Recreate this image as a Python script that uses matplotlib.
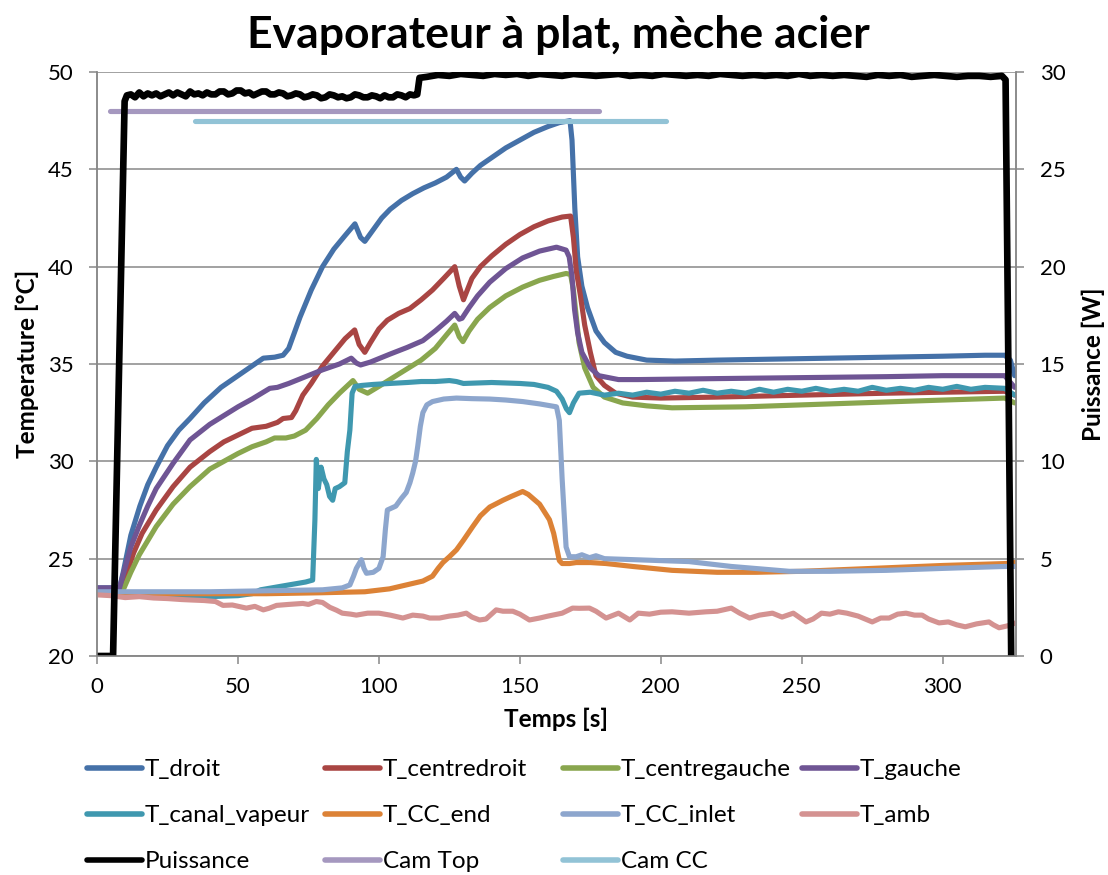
import matplotlib
matplotlib.use("Agg")
import matplotlib.pyplot as plt
from matplotlib.lines import Line2D

plt.rcParams['font.family'] = ['Lato', 'DejaVu Sans']

# ---------------- data ----------------
t_droit = [0, 5, 8, 9.3, 12, 15.2, 18, 21, 25, 29, 33, 38, 44, 50, 55, 59, 63, 66, 68, 70, 72, 76, 80, 84, 88,
           91.5, 93.5, 95, 98, 101, 104, 108, 112, 116, 120, 124, 127.5, 129, 130.4, 133, 136, 140, 145, 150,
           155, 160, 164, 167.8, 168.5, 169.5, 170.5, 172, 174, 177, 180, 184, 188, 195, 205, 220, 240, 260,
           280, 300, 315, 322, 324, 325.5]
v_droit = [23.5, 23.5, 23.5, 24.3, 26.2, 27.7, 28.8, 29.7, 30.8, 31.6, 32.2, 33.0, 33.8, 34.4, 34.9, 35.3, 35.35,
           35.45, 35.8, 36.6, 37.4, 38.8, 40.0, 40.9, 41.6, 42.2, 41.5, 41.3, 41.9, 42.5, 42.95, 43.4, 43.75,
           44.05, 44.3, 44.6, 45.0, 44.6, 44.4, 44.8, 45.2, 45.6, 46.1, 46.5, 46.9, 47.2, 47.4, 47.5, 46.5, 43.0,
           40.5, 39.0, 37.9, 36.7, 36.1, 35.6, 35.4, 35.2, 35.15, 35.2, 35.25, 35.3, 35.35, 35.4, 35.45, 35.45,
           35.2, 34.4]

t_cdroit = [0, 8, 10, 13, 16, 21, 27, 33, 40, 45, 50, 55, 60, 64, 66, 69, 70.5, 73, 76, 80, 84, 88, 91.4, 93,
            95, 97, 100, 103, 107, 111, 115, 119, 123, 126.9, 128.5, 130, 133, 136, 140, 145, 150, 155, 160,
            165, 168, 169, 170, 171.5, 173, 175, 177, 180, 184, 190, 200, 220, 250, 280, 300, 322, 325.5]
v_cdroit = [23.4, 23.4, 24.0, 25.3, 26.3, 27.5, 28.7, 29.7, 30.5, 31.0, 31.35, 31.7, 31.8, 32.0, 32.2, 32.25,
            32.6, 33.4, 34.0, 34.9, 35.6, 36.3, 36.75, 36.0, 35.6, 36.1, 36.8, 37.25, 37.6, 37.85, 38.3, 38.8,
            39.4, 40.0, 39.0, 38.3, 39.4, 40.0, 40.55, 41.15, 41.65, 42.05, 42.35, 42.55, 42.6, 41.5, 39.8,
            38.5, 37.0, 35.6, 34.4, 33.9, 33.5, 33.3, 33.25, 33.3, 33.4, 33.5, 33.55, 33.6, 33.4]

t_cgauche = [0, 9, 12, 15, 21, 27, 33, 40, 45, 50, 55, 60, 63, 67, 70, 74, 78, 82, 86, 90.8, 93, 96, 100, 105,
             110, 115, 120, 124, 126.9, 128.5, 129.8, 132, 135, 139.3, 145, 151, 157, 162, 166.4, 168, 169,
             171, 173, 176, 180, 186.5, 195, 204, 230, 260, 290, 322, 325.5]
v_cgauche = [23.3, 23.3, 24.3, 25.2, 26.65, 27.8, 28.7, 29.6, 30.0, 30.4, 30.75, 31.0, 31.2, 31.2, 31.3, 31.6,
             32.2, 32.9, 33.5, 34.15, 33.7, 33.5, 33.85, 34.3, 34.75, 35.2, 35.8, 36.5, 37.0, 36.4, 36.15, 36.7,
             37.3, 37.9, 38.5, 38.95, 39.3, 39.5, 39.65, 39.6, 38.8, 36.1, 34.8, 33.8, 33.3, 33.0, 32.85, 32.75,
             32.8, 32.95, 33.1, 33.25, 33.0]

t_gauche = [0, 8, 9.5, 12, 15, 18, 21, 27, 33, 40, 45, 50, 55, 59, 61.3, 64, 68, 74, 80, 86, 90.2, 92, 93.5,
            97, 103.8, 110, 115.6, 120, 124, 126.9, 128.5, 129.5, 132, 135, 139.3, 145, 151, 157, 163, 166.4,
            167.5, 168.5, 169.4, 170.5, 172, 175, 178, 185, 192, 220, 250, 280, 300, 322, 325.5]
v_gauche = [23.5, 23.5, 24.3, 25.6, 26.7, 27.7, 28.6, 29.9, 31.1, 31.9, 32.35, 32.8, 33.2, 33.55, 33.75, 33.8,
            34.0, 34.35, 34.7, 35.0, 35.3, 35.05, 34.95, 35.1, 35.5, 35.85, 36.2, 36.7, 37.2, 37.6, 37.3,
            37.35, 37.9, 38.5, 39.2, 39.9, 40.45, 40.8, 41.0, 40.85, 40.5, 39.5, 37.8, 36.6, 35.6, 34.8, 34.4,
            34.2, 34.2, 34.25, 34.3, 34.35, 34.4, 34.4, 33.8]

t_canal = [0, 10, 20, 30, 40, 50, 55, 58, 62, 66, 70, 74, 76.5, 77.3, 77.8, 78.5, 79.5, 80.5, 81.5, 82.5, 83.6,
           84.5, 86, 87.9, 88.8, 89.7, 90.5, 91.5, 94, 98, 103.8, 110, 115, 120, 125, 127.5, 130, 140, 150,
           155, 160, 163, 165, 166.5, 167.6, 169, 171, 175, 180, 185, 190, 195, 200, 205, 210, 215, 220, 225,
           230, 235, 240, 245, 250, 255, 260, 265, 270, 275, 280, 285, 290, 295, 300, 305, 310, 315, 322, 325.5]
v_canal = [23.2, 23.15, 23.1, 23.05, 23.05, 23.1, 23.2, 23.4, 23.5, 23.6, 23.7, 23.8, 23.9, 27.0, 30.1, 28.6,
           29.7, 29.1, 28.8, 28.2, 28.0, 28.6, 28.7, 28.9, 30.5, 31.6, 33.5, 33.85, 33.9, 33.95, 34.0, 34.05,
           34.1, 34.1, 34.15, 34.1, 34.0, 34.05, 34.0, 33.95, 33.8, 33.6, 33.2, 32.7, 32.5, 33.0, 33.5, 33.55,
           33.4, 33.5, 33.4, 33.55, 33.45, 33.6, 33.5, 33.65, 33.5, 33.6, 33.5, 33.7, 33.55, 33.7, 33.6, 33.75,
           33.6, 33.7, 33.6, 33.8, 33.65, 33.75, 33.65, 33.8, 33.7, 33.85, 33.7, 33.8, 33.75, 33.4]

t_ccend = [0, 20, 40, 60, 80, 95, 103.8, 109.7, 115.6, 119, 121, 122.7, 125, 127.5, 130, 133.3, 136, 139.3,
           142, 144, 147, 151, 153, 157, 160.5, 162, 163, 164, 165, 167.6, 170, 175, 180.6, 190, 204, 220,
           233.8, 250, 275, 300, 322.4, 325.5]
v_ccend = [23.25, 23.2, 23.2, 23.2, 23.25, 23.3, 23.45, 23.65, 23.85, 24.1, 24.5, 24.8, 25.1, 25.45, 25.95,
           26.65, 27.2, 27.65, 27.85, 28.0, 28.2, 28.45, 28.3, 27.8, 27.0, 26.3, 25.6, 24.9, 24.75, 24.75, 24.8,
           24.8, 24.75, 24.6, 24.4, 24.3, 24.3, 24.35, 24.5, 24.65, 24.75, 24.8]

t_ccinlet = [0, 20, 40, 60, 80, 87, 89.7, 91, 92, 93.8, 94.7, 95.6, 98, 100, 101.5, 102.3, 103, 106, 108, 109.7,
             111, 112, 113, 113.8, 114.7, 115.6, 117, 119, 123, 127.5, 133, 139.3, 145, 151, 157, 163, 164, 165,
             166.4, 167.6, 170, 172, 174.7, 177, 180, 190, 200, 210, 225, 245.6, 260, 280, 300, 322, 325.5]
v_ccinlet = [23.3, 23.3, 23.3, 23.35, 23.4, 23.5, 23.65, 24.1, 24.5, 24.95, 24.5, 24.25, 24.3, 24.5, 25.1, 26.5,
             27.5, 27.7, 28.1, 28.4, 28.9, 29.4, 30.0, 30.8, 31.8, 32.5, 32.9, 33.07, 33.2, 33.25, 33.22, 33.2,
             33.15, 33.07, 32.95, 32.8, 32.1, 29.1, 25.6, 25.1, 25.1, 25.2, 25.05, 25.15, 25.0, 24.95, 24.9,
             24.85, 24.6, 24.35, 24.35, 24.4, 24.5, 24.6, 24.6]

t_amb = [0, 5, 10, 15, 20, 25, 30, 33, 38, 42, 44.7, 48, 53, 56, 59, 61, 63.7, 68, 73, 75, 77.8, 80, 82.6, 85,
         87, 90, 92, 96, 100, 104, 108.5, 112, 115.6, 118, 121.5, 125, 128, 131, 133, 135.7, 138, 141.6, 144,
         147.5, 150, 153.4, 157, 160, 165, 168.7, 171, 174.7, 177, 180.6, 185, 189, 192, 196, 200, 204, 210,
         216, 220, 225, 228, 231.5, 235, 239.6, 243, 247, 251.5, 254, 257, 260, 263, 266, 270, 275, 278, 281,
         284, 287, 290, 292.7, 295, 298.7, 302, 305, 308, 312, 316.4, 318, 320, 323, 325.9]
v_amb = [23.14, 23.1, 23.0, 23.05, 22.98, 22.95, 22.9, 22.88, 22.85, 22.8, 22.6, 22.62, 22.46, 22.55, 22.37,
         22.45, 22.6, 22.65, 22.7, 22.65, 22.8, 22.75, 22.5, 22.35, 22.2, 22.15, 22.1, 22.2, 22.2, 22.1, 21.95,
         22.1, 22.05, 21.95, 21.95, 22.05, 22.1, 22.2, 22.0, 21.85, 21.9, 22.37, 22.3, 22.3, 22.15, 21.85,
         21.95, 22.05, 22.2, 22.46, 22.45, 22.46, 22.3, 21.95, 22.2, 21.85, 22.2, 22.15, 22.25, 22.27, 22.2,
         22.27, 22.3, 22.46, 22.2, 21.95, 22.1, 22.2, 22.0, 22.2, 21.75, 21.9, 22.2, 22.15, 22.27, 22.2, 22.05,
         21.75, 21.95, 21.95, 22.15, 22.2, 22.1, 22.1, 21.9, 21.7, 21.75, 21.6, 21.5, 21.65, 21.75, 21.6,
         21.45, 21.55, 21.7]

t_puis = [0, 5.7, 9.8, 10.6, 12, 13.5, 15, 16.5, 18, 19.5, 21, 22.5, 24, 25.5, 27, 28.5, 30, 31.5, 33, 34.5,
          36, 37.5, 39, 40.5, 42, 43.5, 45, 46.5, 48, 49.5, 51, 52.5, 54, 55.5, 57, 58.5, 60, 61.5, 63, 64.5,
          66, 67.5, 69, 70.5, 72, 73.5, 75, 76.5, 78, 79.5, 81, 82.5, 84, 85.5, 87, 88.5, 90, 91.5, 93, 94.5,
          96, 97.5, 99, 100.5, 102, 103.5, 105, 106.5, 108, 109.5, 111, 112.5, 113.6, 114.4, 117, 121, 125,
          129, 133, 137, 141, 145, 149, 153, 157, 161, 165, 169, 173, 177, 181, 185, 189, 193, 197, 201, 205,
          209, 213, 217, 221, 225, 229, 233, 237, 241, 245, 249, 253, 257, 261, 265, 269, 273, 277, 281, 285,
          289, 293, 297, 301, 305, 309, 313, 317, 321, 322.3, 324.3]
v_puis = [0, 0, 28.5, 28.8, 28.85, 28.7, 28.95, 28.75, 28.9, 28.8, 28.9, 28.75, 28.85, 28.95, 28.8, 28.95,
          28.85, 28.75, 29.0, 28.85, 28.9, 28.8, 28.95, 28.85, 28.85, 29.0, 29.0, 28.85, 28.9, 29.05, 29.05,
          28.9, 28.95, 28.8, 28.9, 29.0, 29.0, 28.85, 28.85, 28.95, 28.9, 28.75, 28.8, 28.9, 28.85, 28.7,
          28.75, 28.85, 28.8, 28.65, 28.7, 28.85, 28.8, 28.7, 28.75, 28.65, 28.7, 28.85, 28.8, 28.7, 28.7,
          28.8, 28.75, 28.65, 28.8, 28.7, 28.7, 28.85, 28.8, 28.7, 28.85, 28.8, 28.85, 29.7,
          29.75, 29.85, 29.8, 29.9, 29.85, 29.8, 29.9, 29.85, 29.9, 29.8,
          29.9, 29.85, 29.8, 29.9, 29.85, 29.8, 29.85, 29.9, 29.8, 29.85,
          29.8, 29.9, 29.85, 29.8, 29.85, 29.8, 29.9, 29.85, 29.8, 29.85,
          29.8, 29.85, 29.8, 29.9, 29.8, 29.85, 29.8, 29.85, 29.8, 29.75,
          29.85, 29.8, 29.85, 29.75, 29.8, 29.85, 29.8, 29.75, 29.8, 29.8,
          29.75, 29.8, 29.6, 0]

t_camtop = [4.6, 178]
v_camtop = [48, 48]
t_camcc = [34.7, 202]
v_camcc = [47.5, 47.5]

series_names = ["T_droit", "T_centredroit", "T_centregauche", "T_gauche", "T_canal_vapeur",
                "T_CC_end", "T_CC_inlet", "T_amb", "Puissance", "Cam Top", "Cam CC"]
colors = ["#4571A8", "#A94543", "#89A64E", "#6F5594", "#3F98AF", "#DC8236", "#8DA6CD", "#D49291",
          "#000000", "#A598BF", "#92C3D6"]

x_ticks = [0, 50, 100, 150, 200, 250, 300]
y_ticks = [20, 25, 30, 35, 40, 45, 50]
y2_ticks = [0, 5, 10, 15, 20, 25, 30]

# ---------------- figure ----------------
W, H = 1108, 875
fig = plt.figure(figsize=(W / 100, H / 100), dpi=100)
ax = fig.add_axes([97 / W, 1 - 656 / H, (1016 - 97) / W, (656 - 72) / H])
ax2 = ax.twinx()

grid_c = "#888888"
lw = 3.7
temp_series = [(t_droit, v_droit), (t_cdroit, v_cdroit), (t_cgauche, v_cgauche), (t_gauche, v_gauche),
               (t_canal, v_canal), (t_ccend, v_ccend), (t_ccinlet, v_ccinlet), (t_amb, v_amb)]
handles = {}
for i, (tt, vv) in enumerate(temp_series):
    ln, = ax.plot(tt, vv, color=colors[i], lw=lw, solid_joinstyle="round", solid_capstyle="round",
                  label=series_names[i], zorder=3)
    handles[series_names[i]] = ln
ln, = ax.plot(t_camtop, v_camtop, color=colors[9], lw=lw, solid_capstyle="round", label="Cam Top", zorder=3)
handles["Cam Top"] = ln
ln, = ax.plot(t_camcc, v_camcc, color=colors[10], lw=lw, solid_capstyle="round", label="Cam CC", zorder=3)
handles["Cam CC"] = ln
ln, = ax2.plot(t_puis, v_puis, color=colors[8], lw=4.8, solid_joinstyle="round", label="Puissance")
handles["Puissance"] = ln

ax.set_xlim(0, 326)
ax.set_ylim(20, 50)
ax2.set_ylim(0, 30)
ax.set_xticks(x_ticks)
ax.set_yticks(y_ticks)
ax2.set_yticks(y2_ticks)
ax.yaxis.grid(True, color=grid_c, lw=1.1)
ax.set_axisbelow(True)

for a in (ax, ax2):
    for s in a.spines.values():
        s.set_color(grid_c)
        s.set_linewidth(1.1)
    a.spines["top"].set_visible(False)
ax.tick_params(axis="both", direction="out", length=6, width=1.1, color=grid_c, labelsize=16)
ax.tick_params(axis="y", pad=11)
ax.tick_params(axis="x", pad=9)
ax2.tick_params(axis="y", direction="out", length=6, width=1.1, color=grid_c, labelsize=16, pad=11)

ax.set_xlabel("Temps [s]", fontsize=17.5, fontweight="bold", labelpad=8)
ax.set_ylabel("Temperature [°C]", fontsize=17.5, fontweight="bold", labelpad=6)
ax2.set_ylabel("Puissance [W]", fontsize=17.5, fontweight="bold", labelpad=12)

fig.text(558 / W, 1 - 35 / H, "Evaporateur à plat, mèche acier", fontsize=32, fontweight="bold",
         ha="center", va="center")

# legend: 4 columns, row-major order as in reference
cols = [["T_droit", "T_canal_vapeur", "Puissance"],
        ["T_centredroit", "T_CC_end", "Cam Top"],
        ["T_centregauche", "T_CC_inlet", "Cam CC"],
        ["T_gauche", "T_amb"]]
col_x = [87, 325, 563, 802]
for names, cx in zip(cols, col_x):
    hs = [Line2D([0], [0], color=handles[n].get_color(), lw=4, solid_capstyle="round") for n in names]
    fig.legend(hs, names, loc="upper left", bbox_to_anchor=(cx / W, 1 - 759 / H), frameon=False,
               fontsize=17.5, borderpad=0, borderaxespad=0, handlelength=2.25, handletextpad=0.12,
               labelspacing=1.03)

fig.savefig("out.png", dpi=100)
